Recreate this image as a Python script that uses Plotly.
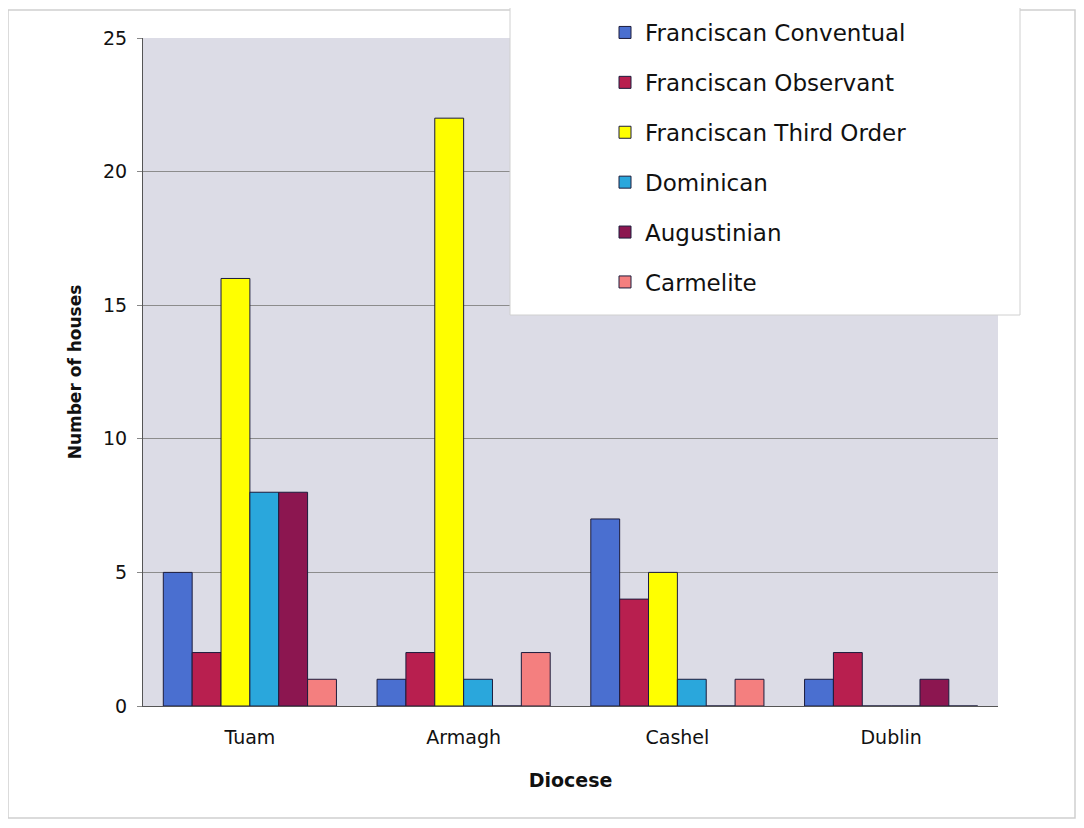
import plotly.graph_objects as go

categories = ["Tuam", "Armagh", "Cashel", "Dublin"]
series_names = ["Franciscan Conventual", "Franciscan Observant", "Franciscan Third Order",
                "Dominican", "Augustinian", "Carmelite"]
conventual = [5, 1, 7, 1]
observant = [2, 2, 4, 2]
third_order = [16, 22, 5, 0]
dominican = [8, 1, 1, 0]
augustinian = [8, 0, 0, 1]
carmelite = [1, 2, 1, 0]
y_ticks = [0, 5, 10, 15, 20, 25]

series_values = [conventual, observant, third_order, dominican, augustinian, carmelite]
colors = ["#4a6fd0", "#b81f4f", "#ffff00", "#2aa7dc", "#8c1650", "#f47f7f"]

# page body has an 8px margin; figure sized to fill the rest of the window
OFF = 8
W, H = 1084 - OFF, 828 - OFF
PL, PR, PT, PB = 143, 998, 38, 706  # plot area in screen pixels
L, T = PL - OFF, PT - OFF
R, B = 1084 - PR, 828 - PB
pw, ph = PR - PL, PB - PT

def px_x(x):
    return (x - PL) / pw

def px_y(y):
    return (PB - y) / ph

FONT = "DejaVu Sans, Verdana, sans-serif"

fig = go.Figure()
for name, vals, col in zip(series_names, series_values, colors):
    fig.add_trace(go.Bar(
        x=categories, y=vals, name=name, legendgroup=name,
        marker=dict(color=col, line=dict(color="#1c1c3c", width=1)),
    ))

fig.update_layout(
    width=W, height=H,
    margin=dict(l=L, r=R, t=T, b=B, autoexpand=False),
    paper_bgcolor="white",
    plot_bgcolor="#dcdce6",
    barmode="group",
    bargap=0.19,
    bargroupgap=0,
    font=dict(family=FONT, color="#111111"),
    showlegend=True,
    legend=dict(
        x=px_x(605), xanchor="left",
        y=px_y(11), yanchor="top",
        bgcolor="rgba(0,0,0,0)",
        font=dict(size=23, family=FONT, color="#111111"),
        traceorder="grouped",
        tracegroupgap=17,
    ),
    shapes=[
        dict(type="rect", xref="paper", yref="paper",
             x0=px_x(8), x1=px_x(1075), y0=px_y(818), y1=px_y(10),
             line=dict(color="#cfcfcf", width=1.5), fillcolor="rgba(0,0,0,0)", layer="below"),
        dict(type="rect", xref="paper", yref="paper",
             x0=px_x(510), x1=px_x(1020), y0=px_y(315), y1=px_y(-2),
             line=dict(color="#d0d0d0", width=1), fillcolor="white", layer="above"),
    ],
    xaxis=dict(
        title=dict(text="<b>Diocese</b>", font=dict(size=19, family=FONT), standoff=26),
        tickfont=dict(size=19, family=FONT),
        ticklabelstandoff=14,
        showline=True, linecolor="#555555", linewidth=1,
        ticks="", showgrid=False,
    ),
    yaxis=dict(
        title=dict(text="<b>Number of houses</b>", font=dict(size=17, family=FONT), standoff=17),
        range=[0, 25], tickvals=y_ticks,
        tickfont=dict(size=19, family=FONT),
        ticklabelstandoff=6,
        showgrid=True, gridcolor="#8c8c8c", gridwidth=1,
        showline=True, linecolor="#555555", linewidth=1,
        ticks="outside", ticklen=5, tickcolor="#888888",
        zeroline=False,
    ),
)

fig.write_html("out.html")
